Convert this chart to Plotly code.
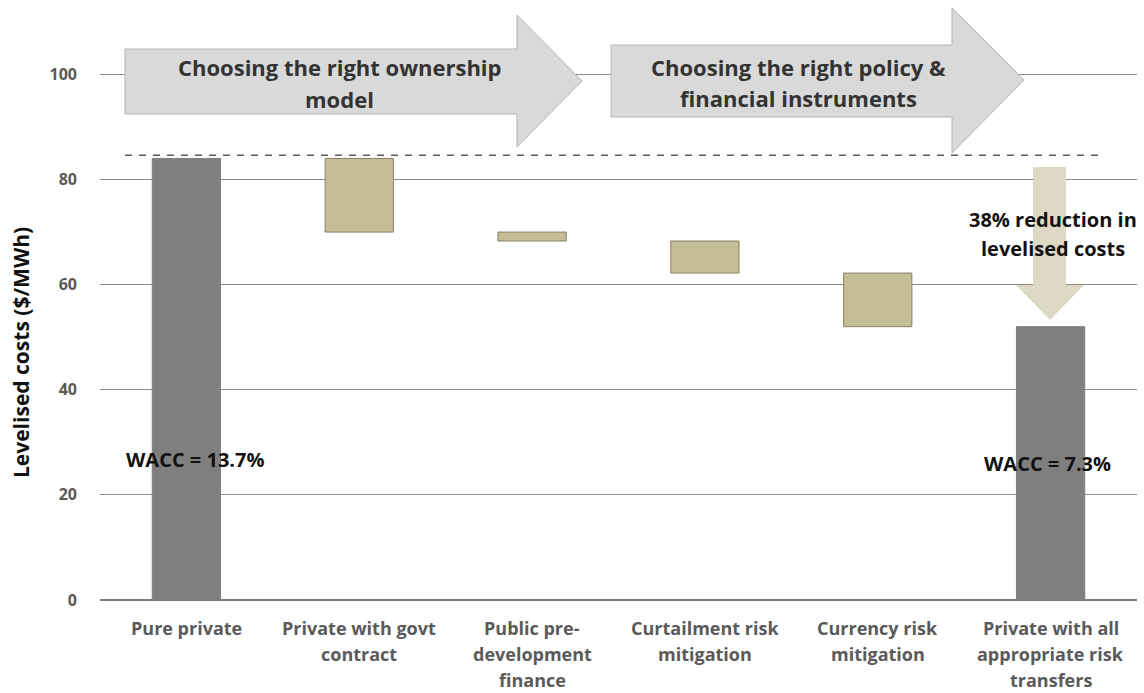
import plotly.graph_objects as go

# ---------------- data ----------------
categories = [
    "Pure private",
    "Private with govt contract",
    "Public pre-development finance",
    "Curtailment risk mitigation",
    "Currency risk mitigation",
    "Private with all appropriate risk transfers",
]
category_lines = [
    ["Pure private"],
    ["Private with govt", "contract"],
    ["Public pre-", "development", "finance"],
    ["Curtailment risk", "mitigation"],
    ["Currency risk", "mitigation"],
    ["Private with all", "appropriate risk", "transfers"],
]
start_cost = 84.0
reductions = [14.0, 1.7, 6.1, 10.2]
final_cost = 52.0
reference_level = 84.6
y_ticks = [0, 20, 40, 60, 80, 100]
wacc_start = "WACC = 13.7%"
wacc_end = "WACC = 7.3%"
reduction_text = ["38% reduction in", "levelised costs"]
arrow1_text = ["Choosing the right ownership", "model"]
arrow2_text = ["Choosing the right policy &", "financial instruments"]

# ---------------- build bars ----------------
bases = [0.0]
heights = [start_cost]
level = start_cost
for r in reductions:
    level -= r
    bases.append(level)
    heights.append(r)
bases.append(0.0)
heights.append(final_cost)

DARK = "#7f7f7f"
TAN = "#c4bd97"
fill_colors = [DARK] + [TAN] * len(reductions) + [DARK]
line_colors = [DARK] + ["#8a8262"] * len(reductions) + [DARK]

# ---------------- geometry helpers (pixels -> paper) ----------------
W, H = 1144, 693
ML, MR, MT, MB = 100, 7, 5, 93
PW = W - ML - MR
PH = H - MT - MB
Y_MAX = 113.2


def px(x):
    return (x - ML) / PW


def py(y):
    return (H - MB - y) / PH


def path(points):
    s = "M " + " L ".join(f"{px(x):.5f},{py(y):.5f}" for x, y in points) + " Z"
    return s


FONT = "Open Sans"

fig = go.Figure()
fig.add_trace(go.Bar(
    x=categories,
    y=heights,
    base=bases,
    width=0.395,
    marker=dict(color=fill_colors, line=dict(color=line_colors, width=1)),
    hoverinfo="skip",
    showlegend=False,
))

shapes = []
# right-pointing block arrows
arrow_grey = dict(fillcolor="#d9d9d9", line=dict(color="#b5b5b5", width=1))
shapes.append(dict(type="path", xref="paper", yref="paper", layer="above",
                   path=path([(125, 49), (517, 49), (517, 15), (582, 81), (517, 147), (517, 114), (125, 114)]),
                   **arrow_grey))
shapes.append(dict(type="path", xref="paper", yref="paper", layer="above",
                   path=path([(611, 45), (952, 45), (952, 8), (1024, 80), (952, 153), (952, 117), (611, 117)]),
                   **arrow_grey))
# dashed reference line
shapes.append(dict(type="line", xref="paper", yref="y", x0=px(125), x1=px(1105),
                   y0=reference_level, y1=reference_level,
                   line=dict(color="#5a5a5a", width=1.5, dash="7px,7px")))
# down arrow
shapes.append(dict(type="path", xref="paper", yref="paper", layer="above",
                   path=path([(1033, 167), (1066, 167), (1066, 285), (1084, 285), (1050, 320),
                              (1016, 285), (1033, 285)]),
                   fillcolor="#ddd9c4", line=dict(color="#ddd9c4", width=0)))

annotations = []
# arrow texts
for i, t in enumerate(arrow1_text):
    annotations.append(dict(text=f"<b>{t}</b>", xref="paper", yref="paper",
                            x=px(339), y=py(67 + 32 * i), showarrow=False,
                            xanchor="center", yanchor="middle",
                            font=dict(family=FONT, size=22, color="#333333")))
for i, t in enumerate(arrow2_text):
    annotations.append(dict(text=f"<b>{t}</b>", xref="paper", yref="paper",
                            x=px(798), y=py(67 + 31 * i), showarrow=False,
                            xanchor="center", yanchor="middle",
                            font=dict(family=FONT, size=22, color="#333333")))
# reduction text
for i, t in enumerate(reduction_text):
    annotations.append(dict(text=f"<b>{t}</b>", xref="paper", yref="paper",
                            x=px(1053), y=py(219 + 29 * i), showarrow=False,
                            xanchor="center", yanchor="middle",
                            font=dict(family=FONT, size=20, color="#111111")))
# WACC texts
annotations.append(dict(text=f"<b>{wacc_start}</b>", xref="paper", yref="paper",
                        x=px(195), y=py(459), showarrow=False, xanchor="center", yanchor="middle",
                        font=dict(family=FONT, size=20, color="#111111")))
annotations.append(dict(text=f"<b>{wacc_end}</b>", xref="paper", yref="paper",
                        x=px(1047), y=py(463), showarrow=False, xanchor="center", yanchor="middle",
                        font=dict(family=FONT, size=20, color="#111111")))
# y axis title
annotations.append(dict(text="<b>Levelised costs ($/MWh)</b>", xref="paper", yref="paper",
                        x=px(21), y=py(353), showarrow=False, textangle=-90,
                        xanchor="center", yanchor="middle",
                        font=dict(family=FONT, size=21, color="#111111")))
# category labels
for cat, lines in zip(categories, category_lines):
    for i, t in enumerate(lines):
        annotations.append(dict(text=f"<b>{t}</b>", xref="x", yref="paper",
                                x=cat, y=py(628 + 26 * i), showarrow=False,
                                xanchor="center", yanchor="middle",
                                font=dict(family=FONT, size=18, color="#5a5a5a")))

fig.update_layout(
    width=W, height=H,
    margin=dict(l=ML, r=MR, t=MT, b=MB, pad=0),
    paper_bgcolor="white", plot_bgcolor="white",
    shapes=shapes, annotations=annotations,
    font=dict(family=FONT),
    xaxis=dict(type="category", range=[-0.5, 5.5], showticklabels=False,
               showgrid=False, zeroline=False, showline=False, ticks=""),
    yaxis=dict(range=[0, Y_MAX], tickvals=y_ticks, showgrid=True,
               gridcolor="#8c8c8c", gridwidth=1,
               zeroline=True, zerolinecolor="#7a7a7a", zerolinewidth=2,
               showline=False, ticks="", ticklabelstandoff=22,
               tickfont=dict(family=FONT, size=16, color="#595959", weight="bold")),
    bargap=0.6,
)

fig.write_html(
    "out.html",
    config={"displayModeBar": False},
    post_script="document.body.style.margin='0';document.body.style.overflow='hidden';",
)
